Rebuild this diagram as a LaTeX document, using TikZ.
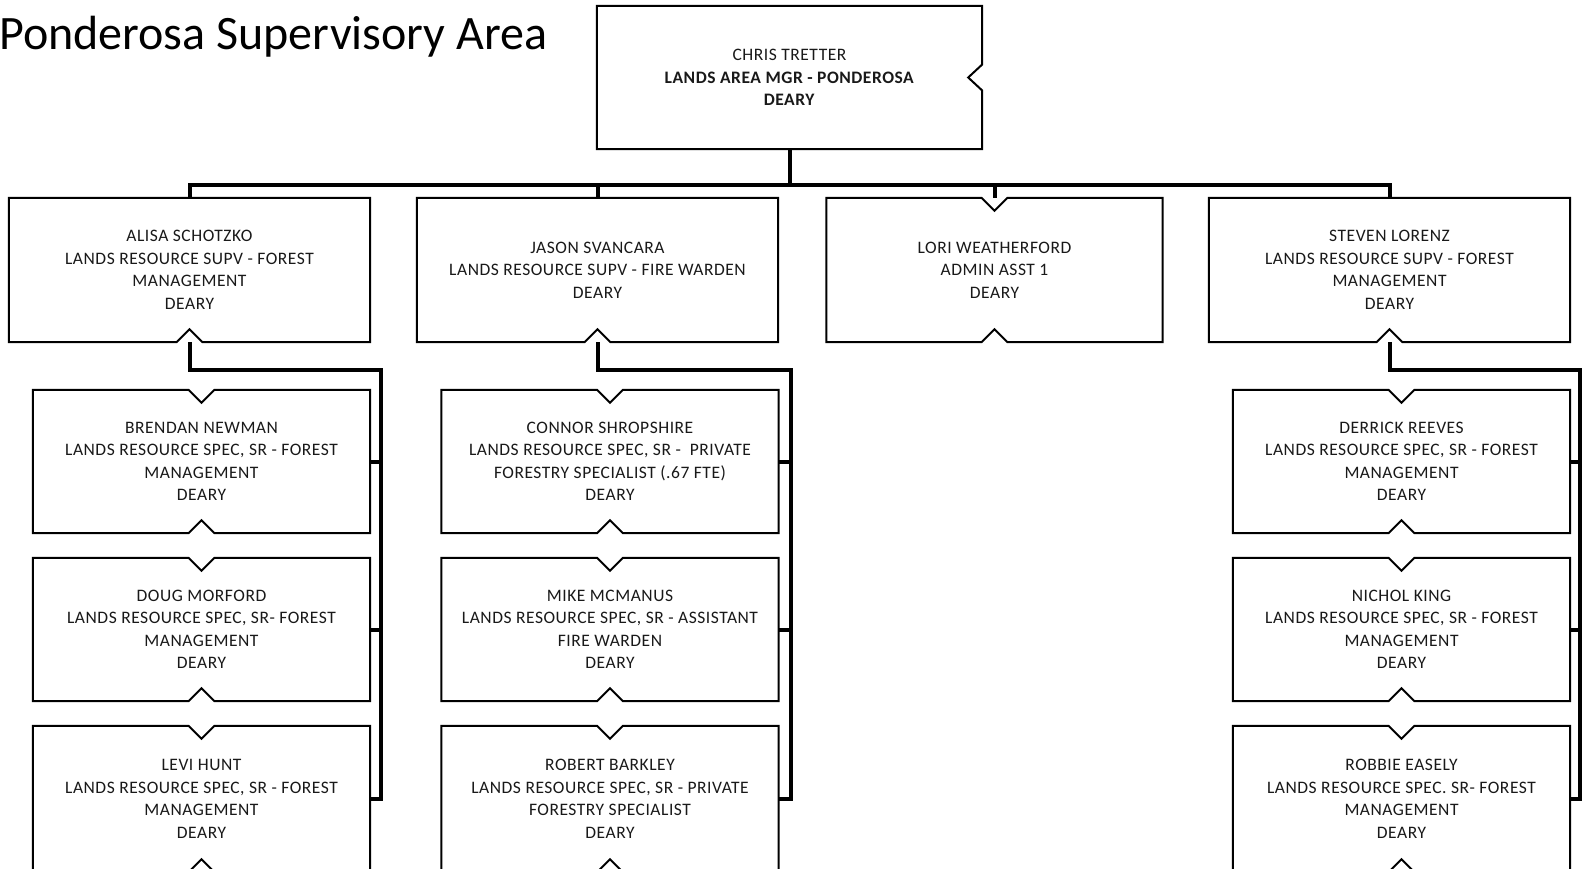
\documentclass[tikz,border=0pt]{standalone}
\usepackage{fontspec}
\setmainfont{Carlito}
\newfontfamily\cardfont[LetterSpace=3]{Carlito}
\tikzset{
  card/.style={rectangle, draw=none, inner sep=0pt, align=center,
    minimum width=#1, font=\cardfont\fontsize{17.5}{22.5}\selectfont, text=black!90},
  card/.default=337pt,
  edge/.style={line width=2pt, line join=miter},
  conn/.style={line width=4pt, line join=miter},
}
% outline with top and bottom notch
\newcommand\cardTB[1]{\draw[edge] (#1.north west) -- ([xshift=-13pt]#1.north) -- ([yshift=-13pt]#1.north) -- ([xshift=13pt]#1.north) -- (#1.north east) -- (#1.south east) -- ([xshift=13pt]#1.south) -- ([yshift=13pt]#1.south) -- ([xshift=-13pt]#1.south) -- (#1.south west) -- cycle;}
% outline with bottom notch only
\newcommand\cardB[1]{\draw[edge] (#1.north west) -- (#1.north east) -- (#1.south east) -- ([xshift=13pt]#1.south) -- ([yshift=13pt]#1.south) -- ([xshift=-13pt]#1.south) -- (#1.south west) -- cycle;}
% outline with right notch
\newcommand\cardR[1]{\draw[edge] (#1.north west) -- (#1.north east) -- ([yshift=13pt]#1.east) -- ([xshift=-14pt]#1.east) -- ([yshift=-13pt]#1.east) -- (#1.south east) -- (#1.south west) -- cycle;}
\begin{document}
\begin{tikzpicture}[x=1pt,y=-1pt]
\useasboundingbox (0,0) rectangle (1585,869);
\fill[white] (0,0) rectangle (1585,869);

\node[anchor=base west, inner sep=0pt, font=\fontsize{48}{56}\selectfont] (title) at (-1,50) {Ponderosa Supervisory Area};

% top
\node[card=385pt, minimum height=143pt] (boss) at (789.5,77.5) {CHRIS TRETTER\\ \textbf{LANDS AREA MGR - PONDEROSA}\\ \textbf{DEARY}};

% supervisors
\node[card=361pt, minimum height=144pt] (alisa) at (189.5,270) {ALISA SCHOTZKO\\LANDS RESOURCE SUPV - FOREST\\MANAGEMENT\\DEARY};
\node[card=361pt, minimum height=144pt] (jason) at (597.5,270) {JASON SVANCARA\\LANDS RESOURCE SUPV - FIRE WARDEN\\DEARY};
\node[card=336pt, minimum height=144pt] (lori) at (994.5,270) {LORI WEATHERFORD\\ADMIN ASST 1\\DEARY};
\node[card=361pt, minimum height=144pt] (steven) at (1389.5,270) {STEVEN LORENZ\\LANDS RESOURCE SUPV - FOREST\\MANAGEMENT\\DEARY};

% Alisa's staff
\node[card, minimum height=143pt] (brendan) at (201.5,461.5) {BRENDAN NEWMAN\\LANDS RESOURCE SPEC, SR - FOREST\\MANAGEMENT\\DEARY};
\node[card, minimum height=143pt] (doug) at (201.5,629.5) {DOUG MORFORD\\LANDS RESOURCE SPEC, SR- FOREST\\MANAGEMENT\\DEARY};
\node[card, minimum height=146pt] (levi) at (201.5,799) {LEVI HUNT\\LANDS RESOURCE SPEC, SR - FOREST\\MANAGEMENT\\DEARY};

% Jason's staff
\node[card, minimum height=143pt] (connor) at (610,461.5) {CONNOR SHROPSHIRE\\LANDS RESOURCE SPEC, SR -\ \ PRIVATE\\FORESTRY SPECIALIST (.67 FTE)\\DEARY};
\node[card, minimum height=143pt] (mike) at (610,629.5) {MIKE MCMANUS\\LANDS RESOURCE SPEC, SR - ASSISTANT\\FIRE WARDEN\\DEARY};
\node[card, minimum height=146pt] (robert) at (610,799) {ROBERT BARKLEY\\LANDS RESOURCE SPEC, SR - PRIVATE\\FORESTRY SPECIALIST\\DEARY};

% Steven's staff
\node[card, minimum height=143pt] (derrick) at (1401.5,461.5) {DERRICK REEVES\\LANDS RESOURCE SPEC, SR - FOREST\\MANAGEMENT\\DEARY};
\node[card, minimum height=143pt] (nichol) at (1401.5,629.5) {NICHOL KING\\LANDS RESOURCE SPEC, SR - FOREST\\MANAGEMENT\\DEARY};
\node[card, minimum height=146pt] (robbie) at (1401.5,799) {ROBBIE EASELY\\LANDS RESOURCE SPEC. SR- FOREST\\MANAGEMENT\\DEARY};

% outlines
\cardR{boss}
\cardB{alisa}
\cardB{jason}
\cardTB{lori}
\cardB{steven}
\cardTB{brendan}\cardTB{doug}\cardTB{levi}
\cardTB{connor}\cardTB{mike}\cardTB{robert}
\cardTB{derrick}\cardTB{nichol}\cardTB{robbie}

% connectors: top level bus
\coordinate (bus) at (789.5,185);
\draw[conn] (boss.south) -- (bus);
\draw[conn] (alisa.north) -- (alisa.north |- bus) -- (steven.north |- bus) -- (steven.north);
\draw[conn] (jason.north) -- (jason.north |- bus);
\draw[conn] (lori.north) -- (lori.north |- bus);

% Alisa's staff
\foreach \c in {brendan,doug,levi}
  \draw[conn] (alisa.south) -- ++(0,28) -| ([xshift=11pt]\c.east) -- (\c.east);
% Jason's staff
\foreach \c in {connor,mike,robert}
  \draw[conn] (jason.south) -- ++(0,28) -| ([xshift=12pt]\c.east) -- (\c.east);
% Steven's staff
\foreach \c in {derrick,nichol,robbie}
  \draw[conn] (steven.south) -- ++(0,28) -| ([xshift=10pt]\c.east) -- (\c.east);
\end{tikzpicture}
\end{document}
